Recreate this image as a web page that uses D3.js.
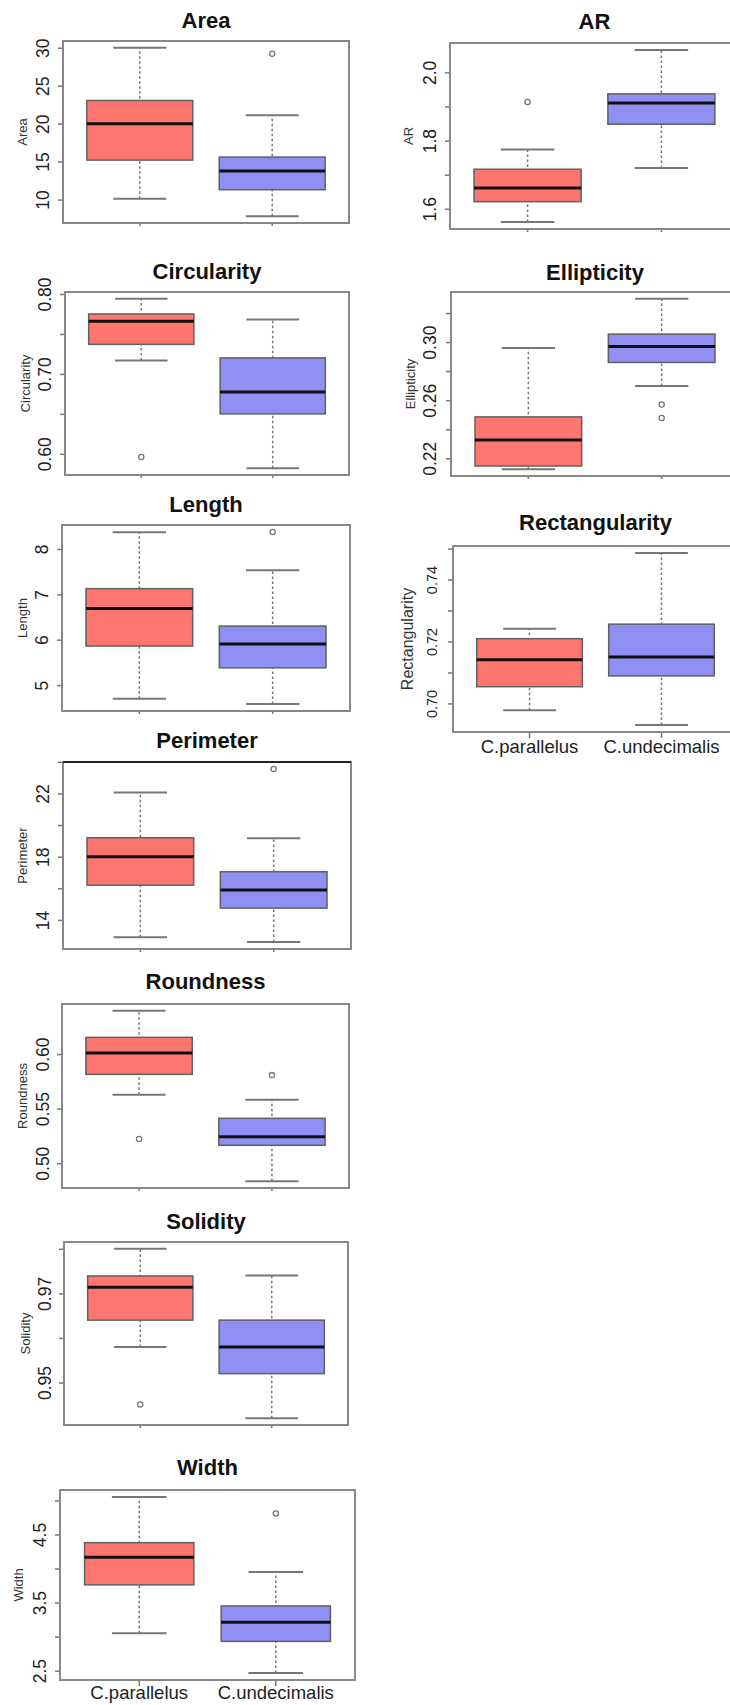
<!DOCTYPE html>
<html>
<head>
<meta charset="utf-8">
<script src="https://cdn.jsdelivr.net/npm/d3@7"></script>
<style>
    body { margin: 0; background: #fff; }
    svg { display: block; font-family: "Liberation Sans", Arial, sans-serif; }
</style>
</head>
<body>
<script>
// measured shape features, two species
const groups = ["C.parallelus", "C.undecimalis"];
const features = ["Area", "AR", "Circularity", "Ellipticity", "Length",
    "Rectangularity", "Perimeter", "Roundness", "Solidity", "Width"];

// [lower whisker, Q1, median, Q3, upper whisker]
const parallelusBox = [
    [10.1, 15.2, 20.0, 23.05, 30.0],
    [1.561, 1.621, 1.661, 1.716, 1.774],
    [0.7167, 0.737, 0.766, 0.775, 0.794],
    [0.2125, 0.2147, 0.2326, 0.2485, 0.2959],
    [4.70, 5.86, 6.69, 7.125, 8.367],
    [0.6978, 0.7054, 0.7141, 0.7209, 0.7241],
    [12.9, 16.2, 18.0, 19.2, 22.06],
    [0.5628, 0.5814, 0.601, 0.6153, 0.6396],
    [0.958, 0.964, 0.9714, 0.9739, 0.980],
    [3.05, 3.76, 4.167, 4.38, 5.05]
];
const undecimalisBox = [
    [7.8, 11.3, 13.75, 15.6, 21.1],
    [1.72, 1.848, 1.91, 1.937, 2.066],
    [0.582, 0.650, 0.6775, 0.720, 0.768],
    [0.2698, 0.286, 0.297, 0.3055, 0.3298],
    [4.58, 5.38, 5.905, 6.30, 7.53],
    [0.693, 0.7089, 0.715, 0.7256, 0.7486],
    [12.6, 14.75, 15.9, 17.05, 19.17],
    [0.4835, 0.5164, 0.5241, 0.5411, 0.558],
    [0.942, 0.952, 0.958, 0.964, 0.974],
    [2.466, 2.93, 3.21, 3.45, 3.95]
];
const parallelusOut = [[], [1.913], [0.596], [], [], [], [], [0.5222], [0.9451], []];
const undecimalisOut = [[29.2], [], [], [0.257, 0.2477], [8.376], [], [23.55], [0.5807], [], [4.81]];

const yTicks = [
    [10, 15, 20, 25, 30],
    [1.6, 1.7, 1.8, 1.9, 2.0],
    [0.60, 0.65, 0.70, 0.75, 0.80],
    [0.22, 0.24, 0.26, 0.28, 0.30, 0.32],
    [5, 6, 7, 8],
    [0.70, 0.71, 0.72, 0.73, 0.74, 0.75],
    [14, 16, 18, 20, 22, 24],
    [0.50, 0.55, 0.60],
    [0.95, 0.96, 0.97, 0.98],
    [2.5, 3.0, 3.5, 4.0, 4.5, 5.0]
];
// labels R kept (the others were dropped for overlap)
const yTickLabels = [
    ["10", "15", "20", "25", "30"],
    ["1.6", "", "1.8", "", "2.0"],
    ["0.60", "", "0.70", "", "0.80"],
    ["0.22", "", "0.26", "", "0.30", ""],
    ["5", "6", "7", "8"],
    ["0.70", "", "0.72", "", "0.74", ""],
    ["14", "", "18", "", "22", ""],
    ["0.50", "0.55", "0.60"],
    ["0.95", "", "0.97", ""],
    ["2.5", "", "3.5", "", "4.5", ""]
];

// where each panel sits on the page
const layout = [
    {x0: 63, x1: 349, top: 41, bottom: 223, titleY: 27.5, tickX: 43, labX: 22},
    {x0: 450, x1: 739, top: 43, bottom: 229, titleY: 29, tickX: 430, labX: 408},
    {x0: 65, x1: 349, top: 292, bottom: 475, titleY: 279, tickX: 45, labX: 25},
    {x0: 451, x1: 739, top: 292, bottom: 476, titleY: 280, tickX: 430, labX: 410},
    {x0: 62, x1: 350, top: 525, bottom: 711, titleY: 512, tickX: 42, labX: 22},
    {x0: 453, x1: 738, top: 546, bottom: 732, titleY: 530, tickX: 432, labX: 407,
        tickSize: 14.5, labSize: 16, xLabels: 753},
    {x0: 63, x1: 351, top: 762, bottom: 949, titleY: 748, tickX: 43, labX: 22, darkTop: true},
    {x0: 62, x1: 349, top: 1004, bottom: 1188, titleY: 989, tickX: 43, labX: 22},
    {x0: 64, x1: 348, top: 1242, bottom: 1425, titleY: 1229, tickX: 45, labX: 25},
    {x0: 60, x1: 355, top: 1490, bottom: 1680, titleY: 1475, tickX: 40, labX: 18, xLabels: 1699}
];

const fills = ["#ff7670", "#8f8ff4"];

var svg = d3.select("body").append("svg")
    .attr("width", 730)
    .attr("height", 1705);

features.forEach(function(name, i) {
    const L = layout[i];
    const boxes = [parallelusBox[i], undecimalisBox[i]];
    const outs = [parallelusOut[i], undecimalisOut[i]];

    // R style limits: data range plus 4% each side
    const all = d3.merge([boxes[0], boxes[1], outs[0], outs[1]]);
    const lo = d3.min(all), hi = d3.max(all), pad = (hi - lo) * 0.04;

    const y = d3.scaleLinear().domain([lo - pad, hi + pad]).range([L.bottom, L.top]);
    const x = d3.scaleLinear().domain([0.42, 2.58]).range([L.x0, L.x1]);
    const half = x(1.4) - x(1);

    const g = svg.append("g");

    g.append("text")
        .attr("x", (L.x0 + L.x1) / 2)
        .attr("y", L.titleY)
        .attr("text-anchor", "middle")
        .style("font-size", "22px")
        .style("font-weight", "bold")
        .attr("fill", "#111")
        .text(name);

    // y axis, labels turned like R's las=0
    const ax = g.append("g")
        .attr("transform", `translate(${L.x0},0)`)
        .call(d3.axisLeft(y).tickValues(yTicks[i]).tickSize(5).tickSizeOuter(0)
            .tickFormat((d, k) => yTickLabels[i][k]));
    ax.select(".domain").remove();
    ax.selectAll(".tick line").attr("stroke", "#777").attr("stroke-width", 1.5);
    ax.selectAll(".tick text")
        .attr("x", null)
        .attr("dy", "0.35em")
        .attr("text-anchor", "middle")
        .attr("transform", `translate(${L.tickX - L.x0},0) rotate(-90)`)
        .attr("fill", "#222")
        .style("font-family", "'Liberation Sans', Arial, sans-serif")
        .style("font-size", (L.tickSize || 17.5) + "px");

    g.append("text")
        .attr("transform", `translate(${L.labX},${(L.top + L.bottom) / 2}) rotate(-90)`)
        .attr("dy", "0.35em")
        .attr("text-anchor", "middle")
        .attr("fill", "#333")
        .style("font-size", (L.labSize || 13) + "px")
        .text(name);

    boxes.forEach(function(b, k) {
        const cx = x(k + 1);
        // whiskers
        g.append("line")
            .attr("x1", cx).attr("x2", cx)
            .attr("y1", y(b[0])).attr("y2", y(b[4]))
            .attr("stroke", "#777").attr("stroke-width", 1.5)
            .attr("stroke-dasharray", "2.5,2.5");
        [b[0], b[4]].forEach(function(v) {
            g.append("line")
                .attr("x1", cx - half / 2).attr("x2", cx + half / 2)
                .attr("y1", y(v)).attr("y2", y(v))
                .attr("stroke", "#777").attr("stroke-width", 2);
        });
        g.append("rect")
            .attr("x", cx - half)
            .attr("y", y(b[3]))
            .attr("width", half * 2)
            .attr("height", y(b[1]) - y(b[3]))
            .attr("fill", fills[k])
            .attr("stroke", "#606060")
            .attr("stroke-width", 1.5);
        g.append("line")
            .attr("x1", cx - half).attr("x2", cx + half)
            .attr("y1", y(b[2])).attr("y2", y(b[2]))
            .attr("stroke", "#111").attr("stroke-width", 3);

        g.selectAll(null)
            .data(outs[k])
            .enter().append("circle")
            .attr("cx", cx)
            .attr("cy", d => y(d))
            .attr("r", 2.6)
            .attr("fill", "none")
            .attr("stroke", "#777")
            .attr("stroke-width", 1.3);

        // x ticks (labels only on the bottom row)
        g.append("line")
            .attr("x1", cx).attr("x2", cx)
            .attr("y1", L.bottom).attr("y2", L.bottom + (L.xLabels ? 6 : 3))
            .attr("stroke", "#777").attr("stroke-width", 1.5);
        if (L.xLabels) {
            g.append("text")
                .attr("x", cx)
                .attr("y", L.xLabels)
                .attr("text-anchor", "middle")
                .attr("fill", "#222")
                .style("font-size", "18.5px")
                .text(groups[k]);
        }
    });

    g.append("rect")
        .attr("x", L.x0).attr("y", L.top)
        .attr("width", L.x1 - L.x0).attr("height", L.bottom - L.top)
        .attr("fill", "none")
        .attr("stroke", "#888")
        .attr("stroke-width", 2);
    if (L.darkTop) {
        g.append("line")
            .attr("x1", L.x0).attr("x2", L.x1)
            .attr("y1", L.top).attr("y2", L.top)
            .attr("stroke", "#222").attr("stroke-width", 2);
    }
});
</script>
</body>
</html>
